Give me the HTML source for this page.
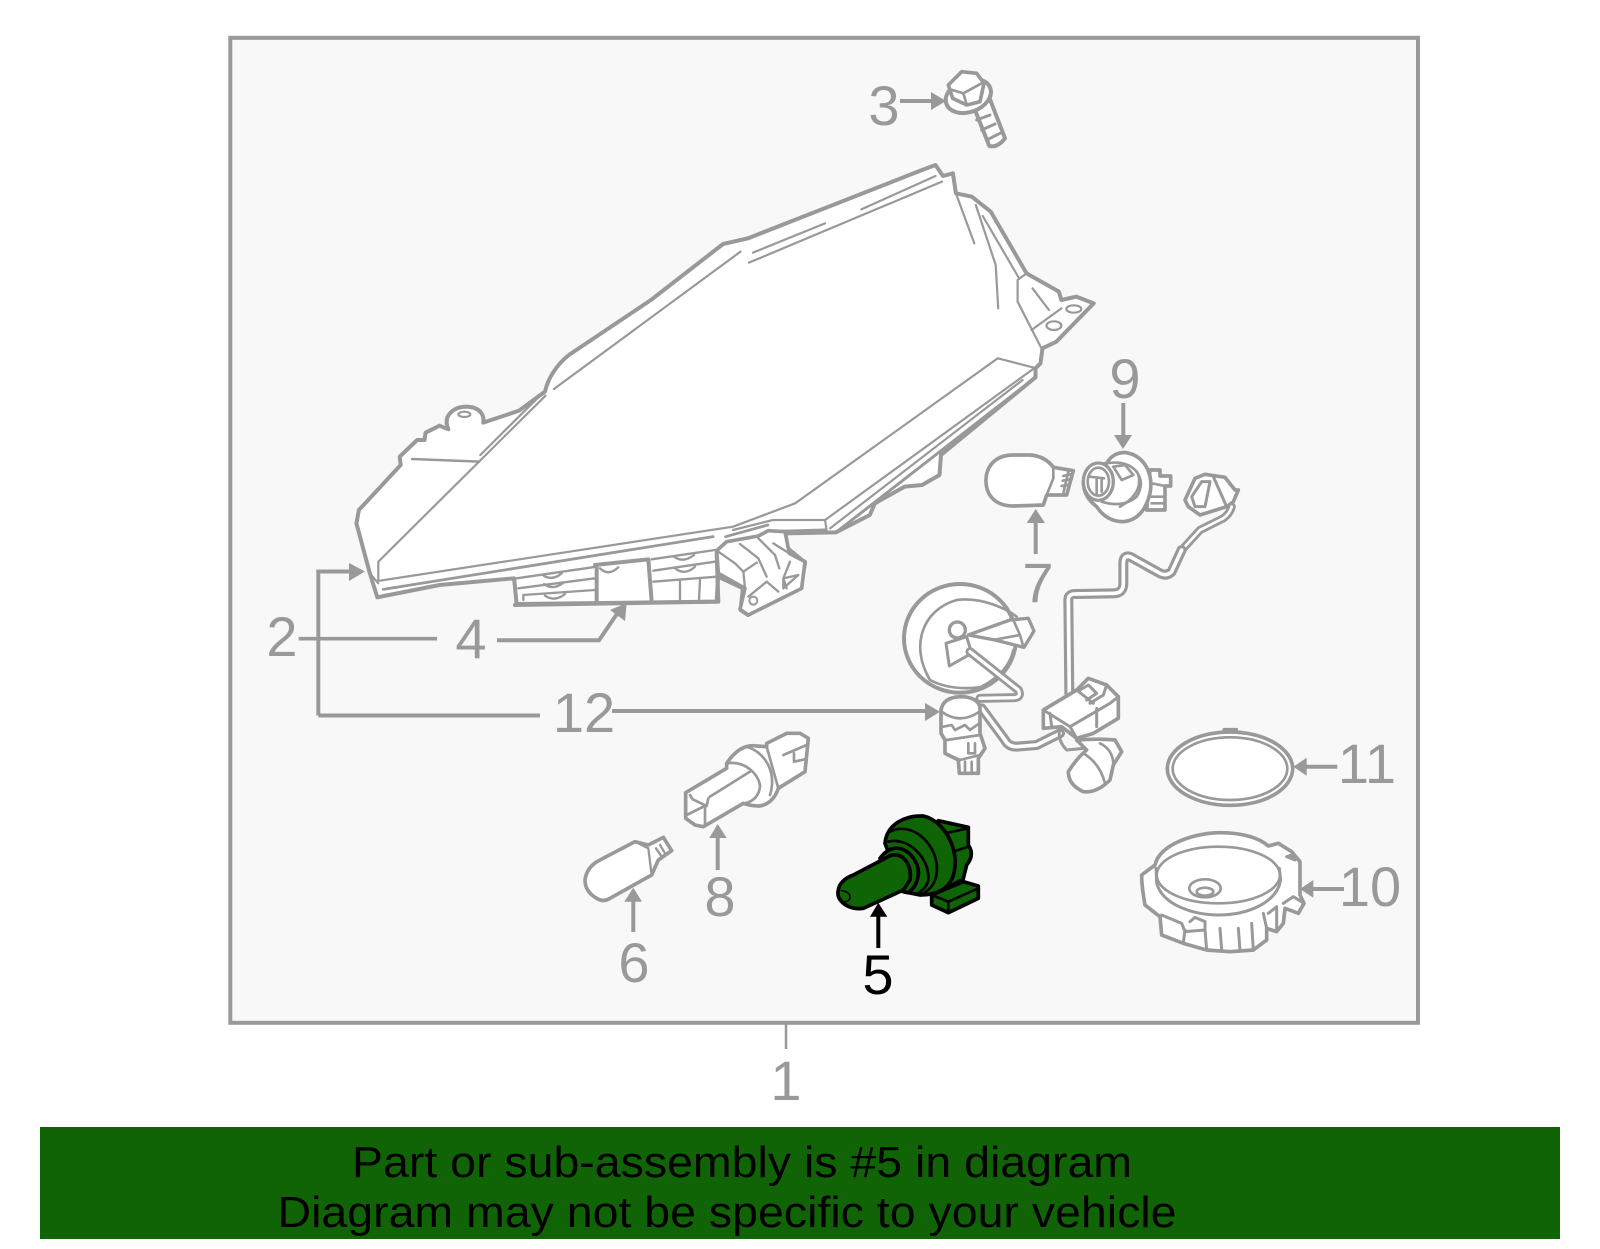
<!DOCTYPE html>
<html><head><meta charset="utf-8"><title>Diagram</title>
<style>
html,body{margin:0;padding:0;background:#fff}
svg{display:block}
text{font-family:"Liberation Sans",Arial,sans-serif}
.n{font-size:56px;fill:#999;text-anchor:middle}
.o{fill:#fff;stroke:#999;stroke-linejoin:round;stroke-linecap:round}
.l{fill:none;stroke:#999;stroke-linejoin:round;stroke-linecap:round}
.w{fill:none;stroke:#fff;stroke-linejoin:round;stroke-linecap:round}
.g{fill:#0f6405;stroke:#000;stroke-width:11;stroke-linejoin:round;stroke-linecap:round}
.gl{fill:none;stroke:#000;stroke-width:8;stroke-linejoin:round;stroke-linecap:round}
.ne *{vector-effect:non-scaling-stroke}
</style></head>
<body>
<svg width="1600" height="1249" viewBox="0 0 1600 1249" xmlns="http://www.w3.org/2000/svg">
<rect width="1600" height="1249" fill="#fff"/>
<rect x="230.3" y="37.8" width="1187.7" height="985" fill="#f8f8f8" stroke="#999" stroke-width="4"/>
<line x1="786" y1="1024" x2="786" y2="1049" stroke="#999" stroke-width="2.5"/>
<text class="n" x="786" y="1100">1</text>

<!-- headlight: zoom coords x*.4975, y*.3333 -->
<g class="ne" transform="translate(340 140) scale(.4975 .33333)">
<path class="o" stroke-width="4" d="M75,1372 L60,1300 L33,1150 L38,1110 L122,975 L120,950 L155,900 L170,900 L172,878 L200,857 L218,868 C205,825 230,800 255,800 C285,802 290,830 288,848 L360,812 L412,755 C418,715 435,675 460,645 L625,480 L770,312 L820,295 L1170,90 L1197,75 L1212,108 L1232,100 L1238,160 L1270,170 L1308,215 L1380,400 L1445,455 L1450,480 L1480,470 L1515,490 L1440,605 L1412,625 L1408,670 L1398,685 L1398,712 L1208,945 L1205,1005 L1170,1035 L1135,1040 L1075,1090 L1065,1125 L997,1177 L895,1180 L900,1225 L935,1268 L928,1325 L820,1425 L805,1410 L810,1345 L760,1310 L757,1385 L355,1392 L350,1315 L200,1335 Z"/>
<g class="l" stroke-width="2.2">
<path d="M77,1322 L77,1265 L413,767"/>
<path stroke-width="2.5" d="M145,957 L280,965"/>
<path d="M282,945 L400,770"/>
<path d="M430,747 L805,335"/>
<path d="M822,368 L1210,125"/>
<path d="M830,338 L975,250"/>
<path d="M1048,208 L1197,108"/>
<path d="M1238,160 L1275,310"/>
<path d="M1278,195 L1318,375 L1323,505"/>
<path d="M1292,228 L1365,415"/>
<path d="M1380,400 L1362,420 L1362,485 L1410,625"/>
<path d="M1392,445 L1425,510"/>
<path d="M1390,570 L1450,505"/>
<ellipse cx="1475" cy="507" rx="15" ry="11"/>
<ellipse cx="1435" cy="557" rx="15" ry="13"/>
<ellipse cx="250" cy="823" rx="12" ry="8"/>
<path d="M1395,683 L1322,655 L915,1090 L790,1160 L80,1322"/>
<path d="M1395,685 L975,1140 L870,1140 L790,1170"/>
<path d="M975,1140 L978,1170"/>
<path d="M1372,720 L985,1165"/>
<path stroke-width="3" d="M1398,712 L997,1177"/>
<path stroke-width="2.8" d="M87,1348 L750,1190"/>
<path stroke-width="2.8" d="M775,1190 L860,1155"/>
<path stroke-width="3" d="M860,1175 L975,1170"/>
<path d="M60,1300 L77,1330"/>
</g>
</g>
<!-- under tabs / bracket -->
<g transform="translate(500 520) scale(.33333)">
<path class="l" stroke-width="7" d="M50,175 L290,140 M55,205 L285,175 M70,240 L70,225 L285,210 M460,152 L645,125 M455,118 L645,90 M460,185 L650,170 M540,185 L540,240 M600,180 L597,240 M128,165 Q155,185 185,160 M132,192 Q160,212 190,188 M135,227 Q165,247 195,222 M300,145 Q325,170 355,142 M522,110 Q550,130 582,105 M525,145 Q555,168 585,140"/>
<path class="l" stroke-width="12" d="M45,255 L655,245 M290,135 L290,245 M445,118 L455,245 M285,135 L445,118 M650,100 L655,245"/>
<path class="o" stroke-width="11" d="M650,92 L680,65 L775,48 L805,32 L855,35 L868,100 L915,125 L905,205 L745,285 L720,268 L735,205 L655,160 Z"/>
<path class="l" stroke-width="7" d="M655,95 L705,130 L730,155 L735,205 M720,72 L775,115 L800,170 M775,55 L825,105 L838,145 M820,70 L868,100 M730,155 L770,128 M745,230 L800,185 M800,185 L835,215 M850,175 L895,165 L850,205 Z M870,125 L850,175 L860,205"/>
<circle cx="760" cy="242" r="12" fill="none" stroke="#999" stroke-width="6"/>
</g>

<!-- bolt 3 -->
<g transform="translate(860 60) scale(.33333)">
<path class="o" stroke-width="12" d="M335,125 L388,258 Q412,264 435,235 L385,105 Z"/>
<path class="l" stroke-width="9" d="M350,180 L390,165 M365,210 L405,192 M380,240 L420,220"/>
<ellipse class="o" stroke-width="12" cx="325" cy="108" rx="70" ry="48" transform="rotate(-20 325 108)"/>
<path class="o" stroke-width="11" d="M265,75 L305,35 L350,40 L372,70 L360,125 L320,135 L278,115 Z"/>
<path class="l" stroke-width="8" d="M270,88 L310,100 L365,70 M310,100 L320,133"/>
</g>
<text class="n" x="884" y="125">3</text>
<path d="M900,101H932" stroke="#999" stroke-width="4"/><path d="M931,92L946,101L931,110Z" fill="#999"/>

<!-- zoom2 group -->
<g transform="translate(880 350) scale(.33333)">
<!-- bulb 7 -->
<path class="o" stroke-width="11" d="M400,315 L450,315 Q495,318 520,352 L580,362 L560,435 L500,435 L490,465 L400,468 C350,468 318,440 318,392 C318,350 345,315 400,315 Z"/>
<path class="l" stroke-width="8" d="M520,355 L520,385 M500,435 L520,385 M565,365 L550,430 M575,372 L550,378 M570,388 L548,392 M565,405 L545,408"/>
<!-- socket 9 -->
<path class="o" stroke-width="11" d="M810,360 L840,360 L840,378 L872,378 L872,408 L855,408 L855,480 L800,480 Z"/>
<path class="l" stroke-width="8" d="M815,400 L855,408 M815,440 L855,440 M815,460 L850,460"/>
<path class="o" stroke-width="11" d="M610,395 Q620,350 680,340 Q700,305 740,308 C800,320 820,380 810,430 Q790,510 730,515 Q680,515 650,470 Q610,440 610,395 Z"/>
<path class="l" stroke-width="8" d="M680,340 Q740,330 770,365 Q795,400 770,440 Q730,475 665,455"/>
<ellipse class="o" stroke-width="10" cx="655" cy="395" rx="45" ry="56"/>
<ellipse class="l" stroke-width="8" cx="655" cy="395" rx="32" ry="42"/>
<path class="l" stroke-width="8" d="M700,350 L735,345 L760,375 L725,390 Z M775,375 Q790,430 720,470 M630,380 L672,385 M650,385 L650,430 M665,385 L665,425"/>
<!-- connector top right -->
<path class="o" stroke-width="11" d="M945,385 L975,373 L1035,382 L1065,420 L1075,420 L1060,455 L1040,470 L960,495 L925,470 L915,450 Z"/>
<path class="l" stroke-width="9" d="M965,395 L990,395 L975,470 L945,470 L935,440 Z M1000,380 L1040,470"/>
<!-- wires -->
<path class="l" stroke-width="25" d="M1055,470 Q1050,490 1030,505 L960,540 L910,595"/>
<path class="w" stroke-width="8" d="M1055,470 Q1050,490 1030,505 L960,540 L910,595"/>
<path class="l" stroke-width="30" d="M905,600 L875,665 Q860,680 840,670 L750,620 Q730,615 730,640 L730,700 Q730,730 700,730 L590,732 Q565,730 565,750 L568,1030"/>
<path class="w" stroke-width="11" d="M905,600 L875,665 Q860,680 840,670 L750,620 Q730,615 730,640 L730,700 Q730,730 700,730 L590,732 Q565,730 565,750 L568,1030"/>
<!-- dome -->
<ellipse class="o" stroke-width="12" cx="240" cy="865" rx="168" ry="163"/>
<path class="l" stroke-width="8" d="M150,990 C90,890 125,780 230,750 C310,740 385,780 410,800 M400,900 Q385,970 300,1012 Q210,1022 150,990"/>
<path class="o" stroke-width="10" d="M265,855 L390,810 L445,805 L462,843 L432,892 L345,870 Z"/>
<path class="l" stroke-width="8" d="M340,870 L420,855 M400,810 L420,855 L430,890"/>
<path class="o" stroke-width="9" d="M198,880 L260,860 L275,910 L208,948 Z"/>
<circle class="o" stroke-width="10" cx="232" cy="840" r="24"/>
<path class="l" stroke-width="27" d="M270,905 L415,1020 Q425,1040 405,1043 L300,1045"/>
<path class="w" stroke-width="10" d="M270,905 L415,1020 Q425,1040 405,1043 L300,1045"/>
<!-- lower wire -->
<path class="l" stroke-width="30" d="M305,1075 L375,1170 Q385,1190 410,1190 L470,1185 L540,1150"/>
<path class="w" stroke-width="11" d="M305,1075 L375,1170 Q385,1190 410,1190 L470,1185 L540,1150"/>
<!-- lower socket -->
<path class="o" stroke-width="11" d="M183,1080 L183,1150 L195,1170 L195,1210 L235,1230 L238,1270 L295,1270 L295,1225 L315,1195 L300,1150 L300,1070 Q290,1040 240,1040 Q190,1042 183,1080 Z"/>
<path class="l" stroke-width="8" d="M185,1085 Q240,1125 298,1085 M190,1130 L215,1125 L225,1140 L255,1125 L270,1140 L298,1120 M200,1170 L300,1155 M265,1180 L265,1210 L285,1210 L285,1180 M255,1235 L255,1270 M275,1235 L275,1270 M195,1210 L240,1230 L300,1215"/>
<!-- bottom bulb -->
<path class="o" stroke-width="11" d="M590,1170 Q660,1165 705,1170 L725,1205 L700,1245 L690,1290 Q650,1330 610,1325 Q565,1305 565,1265 Q590,1225 620,1200 Z"/>
<path class="l" stroke-width="8" d="M610,1210 Q660,1240 675,1300 M660,1180 Q700,1200 700,1245"/>
<!-- big connector -->
<path class="o" stroke-width="11" d="M490,1080 L590,1020 L625,985 L680,1005 L715,1040 L715,1105 L640,1150 L590,1165 L545,1130 L490,1135 Z"/>
<path class="l" stroke-width="9" d="M490,1080 L570,1130 L590,1165 M570,1130 L690,1060 L715,1040 M590,1020 L640,1060 M680,1005 L670,1035 L630,1060 M600,1020 L625,1005 L650,1030 L620,1050 M650,1075 L650,1130 M510,1090 L515,1130 M540,1130 Q530,1170 560,1200 L610,1195"/>
</g>
<path d="M612,711H926" stroke="#999" stroke-width="4"/><path d="M925,703L940,711.7L925,721Z" fill="#999"/>
<text class="n" x="1125" y="398">9</text>
<path d="M1123.3,403V436" stroke="#999" stroke-width="4"/><path d="M1114,435H1132L1123,449Z" fill="#999"/>
<text class="n" x="1038" y="602">7</text>
<path d="M1035.7,554V522" stroke="#999" stroke-width="4"/><path d="M1026.7,523H1045L1035.7,509Z" fill="#999"/>

<!-- left bracket -->
<path d="M318.3,715.5V571.5H350M318.3,715.5H540" fill="none" stroke="#999" stroke-width="4"/>
<path d="M349,563L365,571.5L349,581Z" fill="#999"/>
<path d="M298.7,638.7H437" stroke="#999" stroke-width="3.6"/>
<path d="M497,640.3H599L621,608" fill="none" stroke="#999" stroke-width="4"/>
<path d="M626.7,603L610,610L625,621Z" fill="#999"/>
<text class="n" x="282" y="656">2</text>
<text class="n" x="471" y="658">4</text>
<text class="n" x="584" y="732">12</text>

<!-- zoom3 group -->
<g transform="translate(570 720) scale(.33333)">
<path class="o" stroke-width="11" d="M470,130 Q510,70 560,78 L590,80 L590,70 L650,40 L690,40 L715,55 L705,155 L625,205 Q610,250 570,258 Q540,258 520,250 L400,320 L375,315 L347,295 L347,218 L470,145 Z"/>
<path class="l" stroke-width="8" d="M360,225 L368,238 L410,258 L415,235 M350,285 L410,255 M405,258 L405,318 M420,230 L540,155 M470,130 C530,120 570,170 570,200 Q565,240 525,250 M530,80 C590,100 620,160 600,225 M590,80 L625,205 M640,105 L710,75 M672,100 L672,125 L705,118"/>
<path class="o" stroke-width="11" d="M45,480 Q50,440 90,420 L195,365 L235,375 L255,365 L280,352 L305,392 L265,420 L245,465 L120,535 Q100,548 80,535 Q45,515 45,480 Z"/>
<path class="l" stroke-width="7" d="M195,365 L235,385 L245,465 M258,385 L275,410 L300,395 M270,375 L285,400"/>
</g>
<text class="n" x="720" y="916">8</text>
<path d="M717.7,870V837" stroke="#999" stroke-width="4"/><path d="M709.3,838H726.7L717.7,824Z" fill="#999"/>
<text class="n" x="634" y="982">6</text>
<path d="M633.3,932V900" stroke="#999" stroke-width="4"/><path d="M624.3,901.7H642L633.3,887.7Z" fill="#999"/>

<!-- green bulb -->
<g transform="translate(820 800) scale(.33333)">
<path class="g" d="M355,62 L445,82 L445,135 Q465,165 440,195 L425,255 L360,275 Z"/>
<path class="gl" d="M375,100 L445,85 M400,155 L445,140 M420,240 L370,270"/>
<path class="g" d="M335,285 L430,245 L475,258 L475,295 L385,338 L335,315 Z"/>
<path class="gl" d="M335,285 L385,305 L475,265 M385,305 L385,338"/>
<path class="g" d="M195,130 C200,70 260,45 310,48 C365,60 410,130 405,200 C400,260 360,285 300,285 L250,275 Z"/>
<path class="gl" d="M210,95 C280,60 360,140 350,220 Q345,265 300,285 M205,125 C260,110 330,170 325,240 Q320,265 290,282"/>
<path class="g" d="M180,175 C230,105 300,170 295,225 Q290,260 265,278 L230,270 Z"/>
<path class="g" d="M55,270 Q60,240 100,225 L215,165 C260,160 275,205 270,240 L250,270 L130,325 Q90,330 65,305 Q50,290 55,270 Z"/>
<path class="gl" style="stroke-width:5" d="M65,272 Q92,275 90,295 Q85,305 75,305"/>
</g>
<path d="M878.3,948V915" stroke="#000" stroke-width="4"/><path d="M870,916.7H887.3L878.3,902.7Z" fill="#000"/>
<text x="878" y="994" font-size="56" text-anchor="middle" fill="#000">5</text>

<!-- zoom4 group -->
<g transform="translate(1120 720) scale(.33333)">
<path class="o" stroke-width="9" d="M310,40 L312,28 L350,28 L350,40 Z"/>
<ellipse class="o" stroke-width="11" cx="330" cy="146" rx="188" ry="110"/>
<ellipse class="l" stroke-width="8" cx="330" cy="146" rx="172" ry="94"/>
<path class="o" stroke-width="11" d="M65,465 L105,435 C120,370 230,338 300,338 C370,338 420,355 445,378 L475,370 L515,395 L540,425 L540,525 L552,550 L535,580 L495,565 L490,610 L470,635 L440,625 L440,660 L400,690 L330,695 L260,690 L190,670 L125,645 L120,590 L75,555 Q65,500 65,465 Z"/>
<ellipse class="l" stroke-width="8" cx="295" cy="465" rx="185" ry="85"/>
<path class="l" stroke-width="9" d="M108,445 L110,490 C130,560 230,585 295,585 C380,585 470,550 482,480 L478,445"/>
<ellipse class="l" stroke-width="8" cx="255" cy="505" rx="47" ry="27"/>
<ellipse class="l" stroke-width="8" cx="255" cy="515" rx="25" ry="12"/>
<path class="l" stroke-width="9" d="M125,585 L185,610 L195,635 L255,630 M195,630 L190,670 M210,605 L225,592 L255,605 L255,630 L260,690 M300,625 L305,690 M355,625 L360,690 M395,610 L400,690 M430,580 L440,625 M445,580 L470,560 L470,635 M500,410 L515,405 L525,420 Z M490,550 L520,530 L552,550"/>
</g>
<text class="n" x="1367" y="783">11</text>
<path d="M1337.3,766.7H1305" stroke="#999" stroke-width="4"/><path d="M1306.7,757.7V775.7L1293.3,766.7Z" fill="#999"/>
<text class="n" x="1370" y="906">10</text>
<path d="M1344,889H1312" stroke="#999" stroke-width="4"/><path d="M1313.3,880V897.7L1300,889Z" fill="#999"/>

<!-- banner -->
<rect x="40" y="1127" width="1520" height="112" fill="#116405"/>
<text x="352" y="1177" font-size="44" fill="#000" textLength="780" lengthAdjust="spacingAndGlyphs">Part or sub-assembly is #5 in diagram</text>
<text x="277.5" y="1227" font-size="44" fill="#000" textLength="899" lengthAdjust="spacingAndGlyphs">Diagram may not be specific to your vehicle</text>
</svg>
</body></html>
